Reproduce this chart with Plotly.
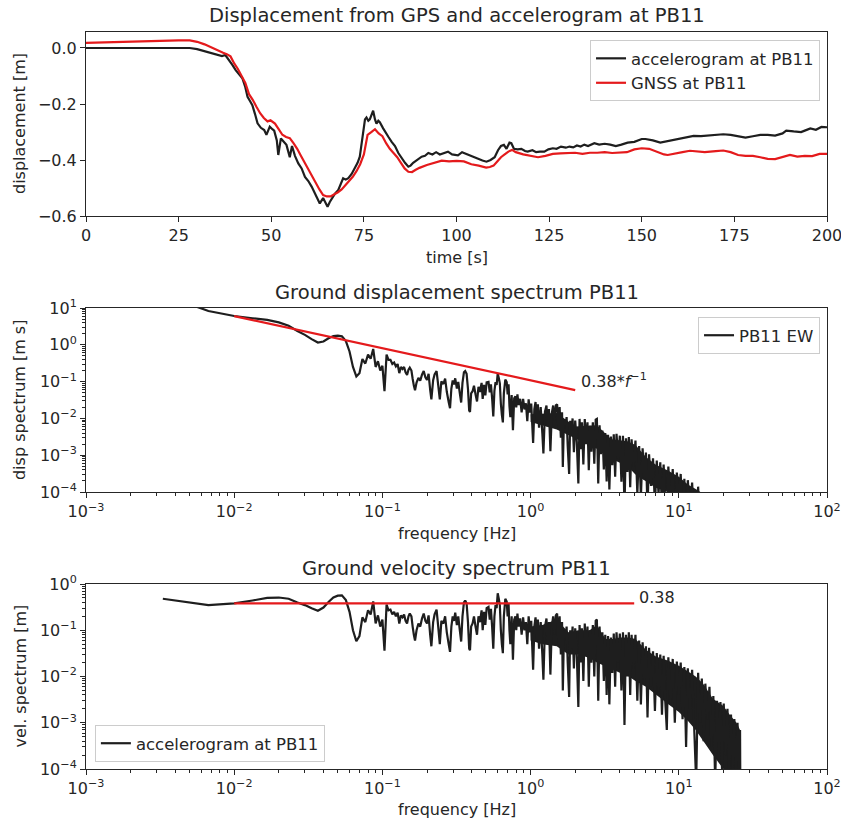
import plotly.graph_objects as go

# ---------------- data ----------------
# Panel 1: displacement time series
time_acc = [0, 5, 10, 15, 20, 25, 28, 30, 32, 33.5,
            35, 36.7, 37.6, 38.5, 39.5, 40.4, 41.3, 42.2, 43, 43.6,
            44.3, 44.9, 45.6, 46.3, 47.2, 48.1, 48.7, 49.6, 50.3, 50.8,
            51.5, 51.9, 52.6, 53.3, 54.1, 54.6, 55, 55.6, 56.4, 57.3,
            58.2, 59.1, 60, 60.9, 62, 63.1, 64, 64.6, 65.2, 65.8,
            66.3, 67.2, 68.1, 68.7, 69.4, 70.1, 70.8, 71.7, 72.6, 73.3,
            73.9, 74.4, 74.8, 75.3, 75.7, 76.2, 76.6, 77.1, 77.5, 78,
            78.4, 78.9, 79.3, 80.2, 80.9, 81.6, 82.5, 83.4, 84.3, 85.2,
            86.1, 87, 87.6, 88.3, 89.5, 90.6, 91.5, 92.4, 93.5, 94.5,
            95.5, 96.5, 97.7, 98.8, 100.4, 101.5, 102.6, 103.7, 104.8, 105.9,
            107, 108.1, 109.2, 110.3, 111.2, 112, 112.8, 113.5, 114.3, 114.8,
            115.5, 116.5, 117.5, 118.5, 119.2, 120.5, 121.5, 122.5, 123.7, 124.8,
            126, 127, 128.2, 129.5, 130.5, 131.5, 132.5, 133.5, 134.5, 135.5,
            137.2, 138.5, 140, 141.5, 143, 144.5, 146.2, 148, 150, 151,
            153, 155, 157, 160, 162, 164, 166, 168, 170, 172,
            174, 176, 178, 180, 182, 184, 186, 188, 189, 191,
            193, 194, 195.5, 197, 198.5, 200]
disp_acc = [0.0, 0.0, 0.0, 0.0, 0.0, 0.0, 0.0, -0.004, -0.012, -0.019,
            -0.025, -0.029, -0.025, -0.04, -0.06, -0.079, -0.095, -0.108, -0.14, -0.174,
            -0.19, -0.204, -0.235, -0.269, -0.285, -0.293, -0.31, -0.281, -0.29, -0.295,
            -0.33, -0.382, -0.323, -0.335, -0.346, -0.37, -0.39, -0.35, -0.385, -0.412,
            -0.43, -0.46, -0.475, -0.495, -0.525, -0.555, -0.536, -0.55, -0.567, -0.55,
            -0.54, -0.52, -0.507, -0.49, -0.465, -0.47, -0.465, -0.45, -0.43, -0.41,
            -0.388, -0.34, -0.293, -0.255, -0.248, -0.26, -0.255, -0.235, -0.224, -0.255,
            -0.27, -0.26, -0.265, -0.287, -0.3, -0.317, -0.335, -0.35, -0.375, -0.394,
            -0.41, -0.424, -0.42, -0.41, -0.398, -0.388, -0.385, -0.375, -0.38, -0.372,
            -0.38, -0.375, -0.37, -0.38, -0.383, -0.372, -0.378, -0.385, -0.39, -0.398,
            -0.402, -0.406, -0.4, -0.39, -0.365, -0.35, -0.346, -0.36, -0.338, -0.34,
            -0.36, -0.362, -0.36, -0.368, -0.37, -0.365, -0.372, -0.37, -0.37, -0.362,
            -0.358, -0.36, -0.352, -0.356, -0.352, -0.355, -0.348, -0.352, -0.345, -0.35,
            -0.34, -0.345, -0.342, -0.345, -0.35, -0.345, -0.338, -0.335, -0.325, -0.325,
            -0.33, -0.338, -0.333, -0.325, -0.32, -0.314, -0.315, -0.313, -0.31, -0.308,
            -0.31, -0.315, -0.32, -0.315, -0.31, -0.31, -0.313, -0.305, -0.295, -0.298,
            -0.3, -0.295, -0.287, -0.292, -0.282, -0.283]

time_gnss = [0, 5, 10, 15, 20, 25, 28, 30, 32, 34,
             36, 37, 38, 39, 40, 41, 42, 43, 44, 45,
             46, 47, 48, 49, 49.8, 51, 52, 53, 54, 55,
             56, 57, 58, 59, 60, 61, 62, 63, 64, 65,
             66, 67, 68, 69, 70, 71, 72, 73, 74, 75,
             76, 77, 78, 79, 80, 81, 82, 83, 84, 85,
             86, 87, 88, 89, 90, 92, 94, 96, 98, 100,
             102, 104, 106, 108, 109, 110, 111, 112, 113, 114,
             115, 116, 118, 120, 122, 124, 126, 128, 130, 132,
             134, 136, 138, 140, 142, 144, 146, 148, 150, 152,
             154, 156, 157, 159, 161, 163, 165, 167, 170, 172,
             174, 176, 178, 180, 182, 184, 186, 188, 190, 192,
             194, 196, 198, 200]
disp_gnss = [0.018, 0.02, 0.023, 0.025, 0.026, 0.027, 0.027, 0.022, 0.013, 0.0,
             -0.012, -0.017, -0.022, -0.03, -0.055, -0.075, -0.1, -0.125, -0.165, -0.185,
             -0.21, -0.233, -0.25, -0.262, -0.258, -0.27, -0.29, -0.31, -0.318, -0.322,
             -0.34, -0.36, -0.385, -0.41, -0.43, -0.455, -0.48, -0.505, -0.525, -0.53,
             -0.53, -0.523, -0.515, -0.505, -0.49, -0.475, -0.46, -0.44, -0.415, -0.38,
             -0.31, -0.3, -0.29, -0.305, -0.315, -0.34, -0.36, -0.375, -0.39, -0.41,
             -0.43, -0.442, -0.443, -0.435, -0.428, -0.418, -0.41, -0.402, -0.405, -0.403,
             -0.405, -0.415, -0.42, -0.427, -0.425, -0.42, -0.405, -0.39, -0.38, -0.37,
             -0.364, -0.372, -0.38, -0.385, -0.39, -0.385, -0.378, -0.376, -0.375, -0.374,
             -0.378, -0.374, -0.374, -0.372, -0.375, -0.374, -0.372, -0.362, -0.358, -0.36,
             -0.37, -0.38, -0.382, -0.376, -0.372, -0.367, -0.37, -0.372, -0.368, -0.366,
             -0.372, -0.382, -0.385, -0.385, -0.39, -0.396, -0.397, -0.39, -0.382, -0.388,
             -0.385, -0.386, -0.378, -0.378]

# Panels 2 and 3: spectra (shared frequency bins)
freq_hz = [0.0033, 0.0067, 0.01, 0.0133, 0.0167, 0.02, 0.0233, 0.0267, 0.03, 0.0333,
           0.0367, 0.04, 0.0433, 0.0467, 0.05, 0.0533, 0.0567, 0.06, 0.0633, 0.0667,
           0.07, 0.0733, 0.0767, 0.08, 0.0833, 0.0867, 0.09, 0.0933, 0.0967, 0.1,
           0.1033, 0.1067, 0.11, 0.1133, 0.1167, 0.12, 0.1233, 0.1267, 0.13, 0.1333,
           0.1367, 0.14, 0.1433, 0.1467, 0.15, 0.153, 0.157, 0.16, 0.163, 0.166,
           0.17, 0.175, 0.18, 0.185, 0.19, 0.195, 0.2, 0.205, 0.21, 0.214,
           0.22, 0.225, 0.232, 0.238, 0.244, 0.25, 0.258, 0.265, 0.272, 0.28,
           0.286, 0.292, 0.298, 0.304, 0.31, 0.318, 0.325, 0.333, 0.34, 0.347,
           0.355, 0.362, 0.37, 0.378, 0.385, 0.39, 0.397, 0.406, 0.415, 0.425,
           0.435, 0.445, 0.455, 0.467, 0.475, 0.485, 0.495, 0.505, 0.52, 0.53,
           0.54, 0.55, 0.56, 0.57, 0.58, 0.59, 0.6, 0.61, 0.62, 0.63,
           0.64, 0.65, 0.66, 0.675, 0.69, 0.7, 0.71, 0.72, 0.73, 0.745,
           0.76, 0.775, 0.79, 0.8, 0.815, 0.83, 0.85, 0.87, 0.89, 0.91,
           0.93, 0.95, 0.97, 0.99, 1.01, 1.04, 1.06, 1.08, 1.1, 1.12,
           1.14, 1.17, 1.2, 1.22, 1.25, 1.28, 1.3, 1.33, 1.36, 1.39,
           1.42, 1.45, 1.48, 1.51, 1.54, 1.57, 1.6, 1.63, 1.65, 1.68,
           1.72, 1.75, 1.78, 1.82, 1.85, 1.88, 1.92, 1.96, 2.0, 2.05,
           2.1, 2.14, 2.18, 2.22, 2.27, 2.32, 2.37, 2.42, 2.47, 2.52,
           2.57, 2.63, 2.69, 2.75, 2.8, 2.86, 2.92, 2.98, 3.05, 3.12,
           3.19, 3.26, 3.33, 3.4, 3.48, 3.56, 3.64, 3.72, 3.8, 3.9,
           4.0, 4.1, 4.2, 4.3, 4.4, 4.5, 4.6, 4.7, 4.8, 4.95,
           5.1, 5.25, 5.4, 5.55, 5.7, 5.85, 6.0, 6.15, 6.3, 6.5,
           6.7, 6.9, 7.1, 7.3, 7.5, 7.7, 7.9, 8.1, 8.3, 8.5,
           8.8, 9.1, 9.4, 9.7, 10.0, 10.3, 10.6, 10.9, 11.2, 11.5,
           11.9, 12.3, 12.7, 13.1, 13.5, 13.9, 14.3, 14.7, 15.1, 15.6,
           16.1, 16.6, 17.1, 17.6, 18.1, 18.6, 19.1, 19.6, 20.1, 20.7,
           21.3, 21.9, 22.5, 23.1, 23.7, 24.3, 24.9, 25.5, 25.9, 26.0]

vel_spec = [0.48, 0.35, 0.38, 0.44, 0.50, 0.51, 0.48, 0.40, 0.35, 0.30,
            0.265, 0.31, 0.41, 0.51, 0.56, 0.57, 0.45, 0.25, 0.10, 0.058,
            0.075, 0.19, 0.15, 0.27, 0.22, 0.42, 0.14, 0.21, 0.12, 0.17,
            0.036, 0.36, 0.27, 0.28, 0.22, 0.25, 0.20, 0.24, 0.14, 0.21,
            0.19, 0.22, 0.16, 0.14, 0.20, 0.23, 0.20, 0.12, 0.08, 0.06,
            0.10, 0.14, 0.12, 0.18, 0.23, 0.16, 0.14, 0.21, 0.08, 0.045,
            0.15, 0.22, 0.28, 0.12, 0.05, 0.16, 0.14, 0.20, 0.09, 0.05,
            0.034, 0.12, 0.20, 0.16, 0.24, 0.13, 0.20, 0.10, 0.057, 0.20,
            0.40, 0.44, 0.38, 0.15, 0.04, 0.037, 0.12, 0.14, 0.20, 0.12,
            0.08, 0.20, 0.15, 0.27, 0.10, 0.25, 0.13, 0.30, 0.32, 0.17,
            0.29, 0.12, 0.04, 0.20, 0.35, 0.30, 0.63, 0.48, 0.35, 0.10,
            0.05, 0.032, 0.20, 0.48, 0.42, 0.20, 0.38, 0.10, 0.05, 0.20,
            0.023, 0.17, 0.20, 0.10, 0.23, 0.12, 0.18, 0.08, 0.19, 0.10,
            0.15, 0.05, 0.20, 0.09, 0.16, 0.014, 0.12, 0.19, 0.06, 0.17,
            0.04, 0.15, 0.03, 0.0085, 0.12, 0.18, 0.05, 0.15, 0.011, 0.12,
            0.20, 0.08, 0.21, 0.23, 0.05, 0.20, 0.03, 0.15, 0.005, 0.10,
            0.07, 0.12, 0.02, 0.0036, 0.10, 0.04, 0.12, 0.015, 0.11, 0.03,
            0.0022, 0.13, 0.02, 0.11, 0.008, 0.14, 0.03, 0.12, 0.006, 0.10,
            0.02, 0.13, 0.01, 0.16, 0.17, 0.003, 0.12, 0.02, 0.09, 0.008,
            0.08, 0.004, 0.075, 0.0025, 0.07, 0.012, 0.085, 0.006, 0.09, 0.02,
            0.085, 0.005, 0.09, 0.0009, 0.08, 0.01, 0.09, 0.004, 0.08, 0.015,
            0.08, 0.003, 0.06, 0.0025, 0.055, 0.008, 0.045, 0.0013, 0.042, 0.006,
            0.035, 0.0018, 0.032, 0.004, 0.03, 0.0015, 0.028, 0.003, 0.0007, 0.026,
            0.0025, 0.024, 0.001, 0.021, 0.004, 0.02, 0.0012, 0.016, 0.0003, 0.015,
            0.002, 0.014, 0.0008, 0.00005, 0.012, 0.001, 0.009, 0.0004, 0.007, 0.0012,
            0.006, 0.0003, 0.0038, 0.00005, 0.003, 0.0002, 0.0028, 0.00008, 0.0026, 0.0002,
            0.002, 0.00005, 0.0015, 0.0001, 0.0012, 0.00006, 0.001, 0.00008, 0.0007, 0.00005]

disp_spec = [23.2, 8.3, 6.05, 5.26, 4.77, 4.06, 3.28, 2.38, 1.86, 1.43,
             1.15, 1.23, 1.51, 1.74, 1.78, 1.70, 1.26, 0.66, 0.25, 0.138,
             0.17, 0.41, 0.31, 0.54, 0.42, 0.77, 0.25, 0.36, 0.20, 0.27,
             0.055, 0.54, 0.39, 0.39, 0.30, 0.33, 0.26, 0.30, 0.17, 0.25,
             0.22, 0.25, 0.178, 0.152, 0.21, 0.24, 0.20, 0.12, 0.078, 0.058,
             0.094, 0.127, 0.106, 0.155, 0.193, 0.131, 0.111, 0.163, 0.061, 0.033,
             0.109, 0.156, 0.192, 0.080, 0.033, 0.102, 0.086, 0.12, 0.053, 0.028,
             0.019, 0.065, 0.107, 0.084, 0.123, 0.065, 0.098, 0.048, 0.027, 0.092,
             0.179, 0.193, 0.163, 0.063, 0.0165, 0.0151, 0.048, 0.055, 0.077, 0.045,
             0.029, 0.072, 0.052, 0.092, 0.034, 0.082, 0.042, 0.095, 0.098, 0.051,
             0.085, 0.035, 0.0114, 0.056, 0.096, 0.081, 0.167, 0.125, 0.090, 0.025,
             0.0124, 0.0078, 0.048, 0.113, 0.097, 0.045, 0.085, 0.022, 0.0109, 0.043,
             0.0048, 0.035, 0.040, 0.020, 0.045, 0.023, 0.034, 0.0146, 0.034, 0.0175,
             0.0257, 0.0084, 0.0328, 0.0145, 0.0252, 0.00214, 0.018, 0.028, 0.0087, 0.0242,
             0.0056, 0.0204, 0.0040, 0.00111, 0.0153, 0.0224, 0.0061, 0.018, 0.00129, 0.0137,
             0.0224, 0.0088, 0.0226, 0.0242, 0.0052, 0.0203, 0.0030, 0.0146, 0.00048, 0.0095,
             0.0065, 0.0109, 0.0018, 0.00031, 0.0086, 0.0034, 0.0100, 0.0012, 0.0088, 0.0023,
             0.00017, 0.0097, 0.00146, 0.0079, 0.00056, 0.0096, 0.0020, 0.0079, 0.00039, 0.0063,
             0.00124, 0.0079, 0.00059, 0.0093, 0.0097, 0.00017, 0.0065, 0.00107, 0.0047, 0.00041,
             0.0040, 0.000195, 0.0036, 0.000117, 0.0032, 0.00054, 0.0037, 0.00026, 0.0038, 0.00082,
             0.0034, 0.00019, 0.0034, 0.000033, 0.0029, 0.00035, 0.0031, 0.000135, 0.0027, 0.00048,
             0.0025, 0.000091, 0.00177, 0.000072, 0.00154, 0.00022, 0.00119, 0.000034, 0.00106, 0.000147,
             0.00083, 0.000042, 0.00072, 0.000087, 0.00064, 0.000031, 0.00056, 0.000059, 0.000013, 0.00049,
             0.000045, 0.00042, 0.000017, 0.00034, 0.000064, 0.00031, 0.000018, 0.00023, 0.000004, 0.00021,
             0.000027, 0.00018, 0.00001, 0.000001, 0.00014, 0.000011, 0.0001, 0.000005]

# Envelope of the densely oscillating (visually solid) part of each spectrum
vel_band_f = [1.0, 1.2, 1.5, 1.8, 2.1, 2.5, 2.8, 3.2, 3.6, 4.0,
              4.6, 5.1, 6.0, 7.0, 8.5, 10.0, 11.5, 13.0, 14.6, 17.0,
              20.0, 22.0, 24.5, 25.9]
vel_band_hi = [0.12, 0.13, 0.17, 0.09, 0.10, 0.10, 0.13, 0.065, 0.065, 0.07,
               0.07, 0.065, 0.038, 0.027, 0.022, 0.017, 0.013, 0.010, 0.007, 0.0033,
               0.0023, 0.0015, 0.001, 0.0007]
vel_band_lo = [0.06, 0.05, 0.045, 0.03, 0.03, 0.025, 0.02, 0.016, 0.014, 0.012,
               0.01, 0.008, 0.006, 0.004, 0.0025, 0.0017, 0.0011, 0.0007, 0.0004, 0.0002,
               0.0001, 0.0001, 0.0001, 0.0001]
disp_band_f = [1.0, 1.5, 2.0, 2.8, 3.5, 4.5, 5.1, 6.0, 7.0, 8.5,
               10.0, 11.5, 13.0, 14.0]
disp_band_hi = [0.013, 0.014, 0.006, 0.0065, 0.0027, 0.0024, 0.0019, 0.0009, 0.00055, 0.00038,
                0.00026, 0.00016, 0.00012, 0.0001]
disp_band_lo = [0.008, 0.005, 0.0028, 0.0015, 0.0008, 0.0005, 0.0003, 0.0002, 0.00013, 0.0001,
                0.0001, 0.0001, 0.0001, 0.0001]

# red reference lines
fit_disp_f = [0.01, 2.0]
fit_disp_s = [6.0, 0.059]
fit_vel_f = [0.01, 5.0]
fit_vel_s = [0.38, 0.38]

time_ticks = [0, 25, 50, 75, 100, 125, 150, 175, 200]
disp_ticks = [-0.6, -0.4, -0.2, 0.0]
disp_tick_text = ["\u22120.6", "\u22120.4", "\u22120.2", "0.0"]
log_exponents = [-4, -3, -2, -1, 0, 1, 2]

assert len(time_acc) == len(disp_acc)
assert len(time_gnss) == len(disp_gnss)
assert len(freq_hz) == len(vel_spec)
assert len(disp_spec) <= len(freq_hz)
assert len(vel_band_f) == len(vel_band_hi) == len(vel_band_lo)
assert len(disp_band_f) == len(disp_band_hi) == len(disp_band_lo)

# ---------------- styling ----------------
INK = "#262626"
BLACK = "#1e1e1e"
RED = "#e41a1c"
FONT = "DejaVu Sans"
FS = 16
LEG_FS = 16.5

def pow_text(e):
    return "10<sup>" + ("\u2212" if e < 0 else "") + str(abs(e)) + "</sup>"

def log_ticks(lo, hi):
    vals = [10.0 ** e for e in log_exponents if lo <= e <= hi]
    text = [pow_text(e) for e in log_exponents if lo <= e <= hi]
    minor = [m * 10.0 ** e for e in range(lo, hi) for m in range(2, 10)]
    return vals, text, minor

def axis(**kw):
    d = dict(showline=True, linecolor=INK, linewidth=1, mirror=True,
             ticks="outside", ticklen=5, tickwidth=1, tickcolor=INK,
             showgrid=False, zeroline=False, automargin=False,
             ticklabeloverflow="allow",
             tickfont=dict(family=FONT, size=FS, color=INK))
    d.update(kw)
    return d

def band(fx, hi, lo, xa, ya):
    return go.Scatter(x=list(fx) + list(fx)[::-1], y=list(hi) + list(lo)[::-1],
                      mode="lines", fill="toself", fillcolor=BLACK,
                      line=dict(width=0, color=BLACK), showlegend=False,
                      hoverinfo="skip", xaxis=xa, yaxis=ya)

def legend_box(**kw):
    d = dict(bgcolor="white", bordercolor="#cccccc", borderwidth=1,
             font=dict(family=FONT, size=LEG_FS, color=INK))
    d.update(kw)
    return d

fig = go.Figure()

fig.add_trace(go.Scatter(x=time_acc, y=disp_acc, mode="lines", name="accelerogram at PB11",
                         line=dict(color=BLACK, width=2.2), xaxis="x", yaxis="y", legend="legend"))
fig.add_trace(go.Scatter(x=time_gnss, y=disp_gnss, mode="lines", name="GNSS at PB11",
                         line=dict(color=RED, width=2.2), xaxis="x", yaxis="y", legend="legend"))

fig.add_trace(band(disp_band_f, disp_band_hi, disp_band_lo, "x2", "y2"))
fig.add_trace(go.Scatter(x=freq_hz[:len(disp_spec)], y=disp_spec, mode="lines", name="PB11 EW",
                         line=dict(color=BLACK, width=2.2, simplify=False),
                         xaxis="x2", yaxis="y2", legend="legend2"))
fig.add_trace(go.Scatter(x=fit_disp_f, y=fit_disp_s, mode="lines", showlegend=False,
                         line=dict(color=RED, width=2.2), xaxis="x2", yaxis="y2"))

fig.add_trace(band(vel_band_f, vel_band_hi, vel_band_lo, "x3", "y3"))
fig.add_trace(go.Scatter(x=freq_hz, y=vel_spec, mode="lines", name="accelerogram at PB11",
                         line=dict(color=BLACK, width=2.2, simplify=False),
                         xaxis="x3", yaxis="y3", legend="legend3"))
fig.add_trace(go.Scatter(x=fit_vel_f, y=fit_vel_s, mode="lines", showlegend=False,
                         line=dict(color=RED, width=2.2), xaxis="x3", yaxis="y3"))

fx_vals, fx_text, fx_minor = log_ticks(-3, 2)
dy_vals, dy_text, dy_minor = log_ticks(-4, 1)
vy_vals, vy_text, vy_minor = log_ticks(-4, 0)
minor_style = dict(ticks="outside", ticklen=3, tickwidth=1, tickcolor=INK, showgrid=False)

fig.update_layout(
    width=841, height=826,
    margin=dict(l=86, r=14, t=32, b=57, autoexpand=False),
    paper_bgcolor="white", plot_bgcolor="white",
    font=dict(family=FONT, size=FS, color=INK),
    xaxis=axis(domain=[0, 1], anchor="y", range=[0, 200], tickmode="array",
               tickvals=time_ticks, ticktext=[str(t) for t in time_ticks]),
    yaxis=axis(domain=[0.7503, 1], anchor="x", range=[-0.6, 0.0571], tickmode="array",
               tickvals=disp_ticks, ticktext=disp_tick_text),
    xaxis2=axis(domain=[0, 1], anchor="y2", type="log", range=[-3, 2], tickmode="array",
                tickvals=fx_vals, ticktext=fx_text,
                minor=dict(tickmode="array", tickvals=fx_minor, **minor_style)),
    yaxis2=axis(domain=[0.3758, 0.6255], anchor="x2", type="log", range=[-4, 1], tickmode="array",
                tickvals=dy_vals, ticktext=dy_text,
                minor=dict(tickmode="array", tickvals=dy_minor, **minor_style)),
    xaxis3=axis(domain=[0, 1], anchor="y3", type="log", range=[-3, 2], tickmode="array",
                tickvals=fx_vals, ticktext=fx_text,
                minor=dict(tickmode="array", tickvals=fx_minor, **minor_style)),
    yaxis3=axis(domain=[0, 0.2510], anchor="x3", type="log", range=[-4, 0], tickmode="array",
                tickvals=vy_vals, ticktext=vy_text,
                minor=dict(tickmode="array", tickvals=vy_minor, **minor_style)),
    legend=legend_box(x=0.9906, y=0.989, xanchor="right", yanchor="top"),
    legend2=legend_box(x=0.9906, y=0.6133, xanchor="right", yanchor="top"),
    legend3=legend_box(x=0.012, y=0.0095, xanchor="left", yanchor="bottom"),
    showlegend=True,
)

ann = []
TITLE_FS = 19.5
for txt, py in [("Displacement from GPS and accelerogram at PB11", 1.023),
                ("Ground displacement spectrum PB11", 0.6472),
                ("Ground velocity spectrum PB11", 0.2727)]:
    ann.append(dict(text=txt, xref="paper", yref="paper", x=0.5, y=py, xanchor="center",
                    yanchor="middle", showarrow=False, font=dict(family=FONT, size=TITLE_FS, color=INK)))
for txt, py in [("time [s]", 0.6947), ("frequency [Hz]", 0.3202), ("frequency [Hz]", -0.0556)]:
    ann.append(dict(text=txt, xref="paper", yref="paper", x=0.5, y=py, xanchor="center",
                    yanchor="middle", showarrow=False, font=dict(family=FONT, size=FS, color=INK)))
for txt, py in [("displacement [m]", 0.8752), ("disp spectrum [m s]", 0.5007), ("vel. spectrum [m]", 0.1255)]:
    ann.append(dict(text=txt, xref="paper", yref="paper", x=-0.089, y=py, xanchor="center",
                    yanchor="middle", textangle=-90, showarrow=False,
                    font=dict(family=FONT, size=FS, color=INK)))
ann.append(dict(text="0.38*<i>f</i><sup>\u22121</sup>", xref="x2", yref="y2", x=0.327, y=-0.957,
                xanchor="left", yanchor="middle", showarrow=False,
                font=dict(family=FONT, size=FS, color=INK)))
ann.append(dict(text="0.38", xref="x3", yref="y3", x=0.718, y=-0.30,
                xanchor="left", yanchor="middle", showarrow=False,
                font=dict(family=FONT, size=FS, color=INK)))
fig.update_layout(annotations=ann)

fig.write_html("out.html", config={"displayModeBar": False})

# remove the browser's default 8px body margin so the figure sits at the page origin
with open("out.html", "r", encoding="utf-8") as fh:
    page = fh.read()
page = page.replace("<head>", "<head><style>html,body{margin:0;padding:0;}</style>", 1)
with open("out.html", "w", encoding="utf-8") as fh:
    fh.write(page)
